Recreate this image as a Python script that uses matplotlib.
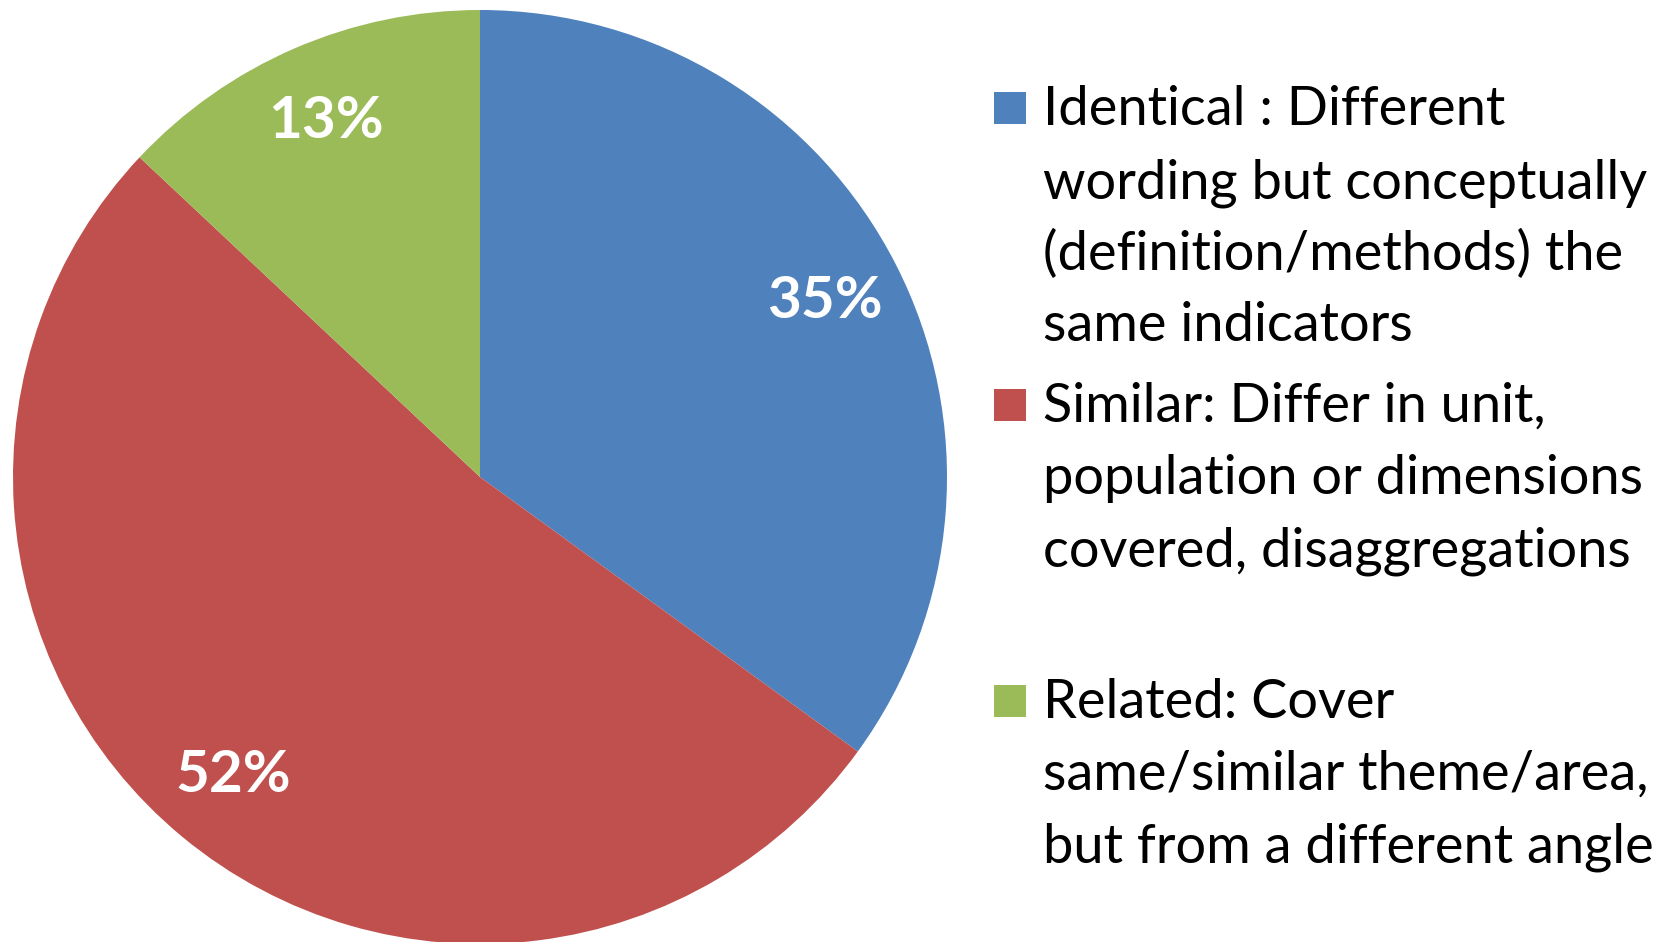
import matplotlib
matplotlib.use("Agg")
import matplotlib.pyplot as plt
import matplotlib.patches as mpatches

plt.rcParams['font.family'] = ['Lato', 'DejaVu Sans']

# data
categories = ["Identical", "Similar", "Related"]
shares = [35, 52, 13]
colors = ["#4F81BD", "#C0504D", "#9BBB59"]
legend_lines = [
    ["Identical : Different", "wording but conceptually",
     "(definition/methods) the", "same indicators"],
    ["Similar: Differ in unit,", "population or dimensions",
     "covered, disaggregations"],
    ["Related: Cover", "same/similar theme/area,",
     "but from a different angle"],
]

W, H = 1675, 942
fig = plt.figure(figsize=(W / 100, H / 100), dpi=100)

# pie placed in pixels: centre (480, 477 from top), radius 467
cx, cy, r = 480, H - 477, 467
ax = fig.add_axes([(cx - r) / W, (cy - r) / H, 2 * r / W, 2 * r / H])
wedges, _, autotexts = ax.pie(shares, colors=colors, startangle=90, counterclock=False,
                              autopct='%d%%', pctdistance=0.83,
                              wedgeprops=dict(linewidth=0))
for t in autotexts:
    t.set_color("white")
    t.set_fontsize(42)
    t.set_fontweight("bold")
ax.set_xlim(-1, 1)
ax.set_ylim(-1, 1)
ax.set_aspect("equal")
ax.axis("off")

# legend drawn by hand, baselines in pixels from top
baselines = [[125, 198, 270, 341], [422, 494, 566], [718, 790, 862]]
sq = 32
for i, lines in enumerate(legend_lines):
    y0 = baselines[i][0]
    fig.add_artist(mpatches.Rectangle((994 / W, (H - y0 + 1) / H), sq / W, sq / H,
                                      transform=fig.transFigure, color=colors[i], lw=0))
    for line, yb in zip(lines, baselines[i]):
        fig.text(1043 / W, (H - yb) / H, line, fontsize=39, va="baseline", ha="left",
                 color="black")

fig.savefig("out.png", dpi=100)
